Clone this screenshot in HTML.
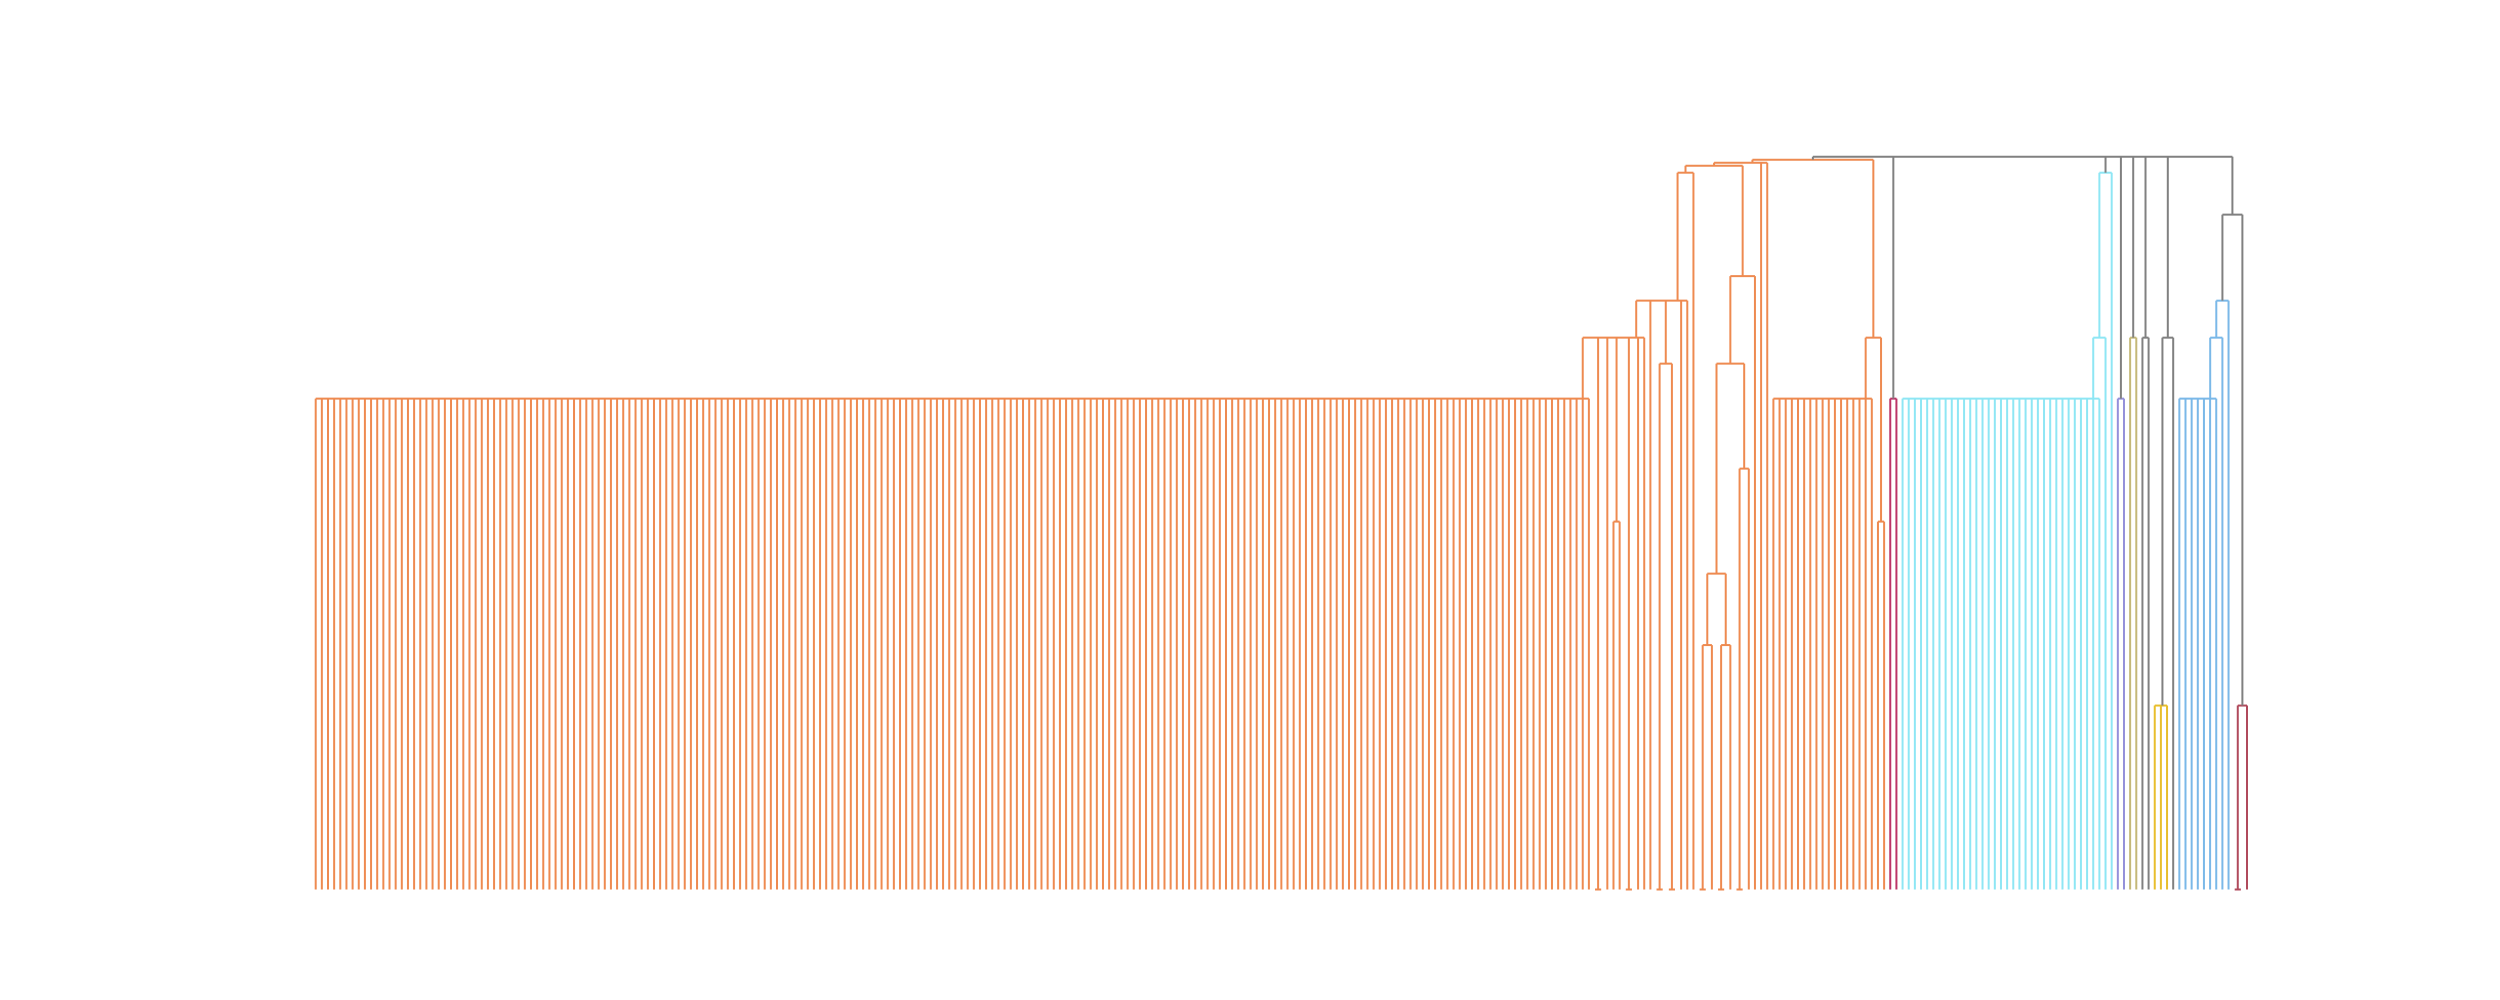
<!DOCTYPE html>
<html>
<head>
<meta charset="utf-8">
<style>
  html, body { margin: 0; padding: 0; background: #ffffff; }
  svg { display: block; }
</style>
</head>
<body>
<svg id="chart" width="2500" height="1000" viewBox="0 0 2500 1000" xmlns="http://www.w3.org/2000/svg">
  <rect x="0" y="0" width="2500" height="1000" fill="#ffffff"/>
  <g id="links" fill="none" stroke-width="2" stroke-linecap="butt"></g>
</svg>
<script>
// ---- data ----
const clusterColors = {
  orange: '#ee8a50', crimson: '#bc3468', cyan: '#8ee6f4', purple: '#9490da',
  olive: '#c4b878', gray: '#808080', yellow: '#e8be2c', blue: '#7ab8e8', red: '#b04a5c'
};
// merge heights (distance units)
const mergeHeights = {
  zero: 0, h184: 1.84, h2445: 2.445, h316: 3.16, h368: 3.68, h421: 4.21, flat: 4.91,
  h526: 5.26, h552: 5.52, h589: 5.89, h6135: 6.135, h675: 6.75,
  h717: 7.17, h724: 7.24, h727: 7.27, h730: 7.30, root: 7.33
};
const flatSizes = { big: 208, orange2: 17, cyan: 33, blue: 7, yellow: 3 };
const axisDomain = [0, 7.33];

// ---- tree helpers (structure only) ----
const L = 'L';
function N(h, col, ...c) { return { h: h, col: col, c: c }; }
function F(h, col, n) { return { h: h, col: col, c: Array(n).fill(L) }; }
function Z(col) { return F(mergeHeights.zero, col, 2); }

const H = mergeHeights, C = clusterColors;
const nodeA = F(H.flat, C.orange, flatSizes.big);
const nodeB = N(H.h552, C.orange, nodeA, Z(C.orange), L, N(H.h368, C.orange, L, L), Z(C.orange), L, L);
const nodeC = N(H.h589, C.orange, nodeB, L, N(H.h526, C.orange, Z(C.orange), Z(C.orange)), L, L);
const nodeD = N(H.h717, C.orange, nodeC, L);
const nodeG = N(H.h316, C.orange, N(H.h2445, C.orange, Z(C.orange), L), N(H.h2445, C.orange, Z(C.orange), L));
const nodeH = N(H.h421, C.orange, Z(C.orange), L);
const nodeE = N(H.h6135, C.orange, N(H.h526, C.orange, nodeG, nodeH), L);
const nodeL7 = N(H.h727, C.orange, N(H.h724, C.orange, nodeD, nodeE), L, L);
const nodeI = N(H.h552, C.orange, F(H.flat, C.orange, flatSizes.orange2), N(H.h368, C.orange, L, L));
const nodeL8 = N(H.h730, C.orange, nodeL7, nodeI);
const crimson = F(H.flat, C.crimson, 2);
const cyan = N(H.h717, C.cyan, N(H.h552, C.cyan, F(H.flat, C.cyan, flatSizes.cyan), L), L);
const purple = F(H.flat, C.purple, 2);
const olive = F(H.h552, C.olive, 2);
const gray2 = F(H.h552, C.gray, 2);
const gray3 = N(H.h552, C.gray, F(H.h184, C.yellow, flatSizes.yellow), L);
const nodeK = N(H.h675, C.gray,
  N(H.h589, C.blue, N(H.h552, C.blue, F(H.flat, C.blue, flatSizes.blue), L), L),
  N(H.h184, C.red, Z(C.red), L));
const tree = N(H.root, C.gray, nodeL8, crimson, cyan, purple, olive, gray2, gray3, nodeK);

// ---- scales ----
function countLeaves(n) { return n === L ? 1 : n.c.reduce((s, k) => s + countLeaves(k), 0); }
const nLeaves = countLeaves(tree);
const xLeft = 315.7, xRight = 2247;
const yBottom = 889.5, yTop = 156.7;
function xs(i) { return xLeft + (xRight - xLeft) * i / (nLeaves - 1); }
function ys(h) { return yBottom - (h - axisDomain[0]) / (axisDomain[1] - axisDomain[0]) * (yBottom - yTop); }

const g = document.getElementById('links');
const NS = 'http://www.w3.org/2000/svg';
function seg(x1, y1, x2, y2, col, name) {
  const l = document.createElementNS(NS, 'line');
  l.setAttribute('x1', x1); l.setAttribute('y1', y1);
  l.setAttribute('x2', x2); l.setAttribute('y2', y2);
  l.setAttribute('stroke', col);
  
  
  g.appendChild(l);
}
let leafIdx = 0;
function draw(node) {
  if (node === L) { return { x: xs(leafIdx++), h: 0 }; }
  const kids = node.c.map(draw);
  const y = ys(node.h);
  kids.forEach(k => seg(k.x, ys(k.h), k.x, y, node.col, 'link-branch'));
  seg(kids[0].x, y, kids[kids.length - 1].x, y, node.col, 'link-bar');
  let cx = kids[0].x;
  for (let i = 1; i < kids.length; i++) cx = (cx + kids[i].x) / 2;
  return { x: cx, h: node.h };
}
draw(tree);
</script>
</body>
</html>
